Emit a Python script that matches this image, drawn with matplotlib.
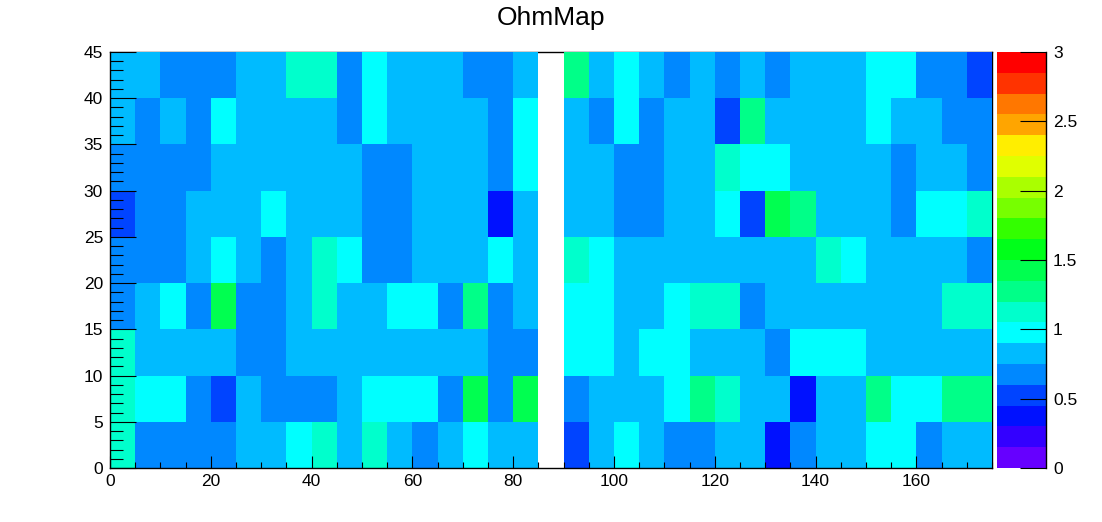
import numpy as np
import matplotlib
matplotlib.use("Agg")
import matplotlib.pyplot as plt
from matplotlib.colors import ListedColormap, BoundaryNorm
from matplotlib.ticker import MultipleLocator, FuncFormatter

plt.rcParams["font.family"] = ["Liberation Sans", "DejaVu Sans"]

# bin edges (35 x 9 cells of 5 x 5)
x_edges = np.arange(0, 176, 5)
y_edges = np.arange(0, 46, 5)

# resistance per cell, one list per y-row (bottom to top); 0 = empty bin
ohm_y00 = [1.12, 0.68, 0.68, 0.68, 0.68, 0.82, 0.82, 0.98, 1.12, 0.82, 1.12, 0.82, 0.68, 0.82, 0.98, 0.82, 0.82, 0,
           0.52, 0.82, 0.98, 0.82, 0.68, 0.68, 0.82, 0.82, 0.38, 0.68, 0.82, 0.82, 0.98, 0.98, 0.68, 0.82, 0.82]
ohm_y05 = [1.12, 0.98, 0.98, 0.68, 0.52, 0.82, 0.68, 0.68, 0.68, 0.82, 0.98, 0.98, 0.98, 0.68, 1.42, 0.68, 1.42, 0,
           0.68, 0.82, 0.82, 0.82, 0.98, 1.28, 1.12, 0.82, 0.82, 0.38, 0.82, 0.82, 1.28, 0.98, 0.98, 1.28, 1.28]
ohm_y10 = [1.12, 0.82, 0.82, 0.82, 0.82, 0.68, 0.68, 0.82, 0.82, 0.82, 0.82, 0.82, 0.82, 0.82, 0.82, 0.68, 0.68, 0,
           0.98, 0.98, 0.82, 0.98, 0.98, 0.82, 0.82, 0.82, 0.68, 0.98, 0.98, 0.98, 0.82, 0.82, 0.82, 0.82, 0.82]
ohm_y15 = [0.68, 0.82, 0.98, 0.68, 1.42, 0.68, 0.68, 0.82, 1.12, 0.82, 0.82, 0.98, 0.98, 0.68, 1.28, 0.68, 0.82, 0,
           0.98, 0.98, 0.82, 0.82, 0.98, 1.12, 1.12, 0.68, 0.82, 0.82, 0.82, 0.82, 0.82, 0.82, 0.82, 1.12, 1.12]
ohm_y20 = [0.68, 0.68, 0.68, 0.82, 0.98, 0.82, 0.68, 0.82, 1.12, 0.98, 0.68, 0.68, 0.82, 0.82, 0.82, 0.98, 0.82, 0,
           1.12, 0.98, 0.82, 0.82, 0.82, 0.82, 0.82, 0.82, 0.82, 0.82, 1.12, 0.98, 0.82, 0.82, 0.82, 0.82, 0.68]
ohm_y25 = [0.52, 0.68, 0.68, 0.82, 0.82, 0.82, 0.98, 0.82, 0.82, 0.82, 0.68, 0.68, 0.82, 0.82, 0.82, 0.38, 0.82, 0,
           0.82, 0.82, 0.68, 0.68, 0.82, 0.82, 0.98, 0.52, 1.42, 1.28, 0.82, 0.82, 0.82, 0.68, 0.98, 0.98, 1.12]
ohm_y30 = [0.68, 0.68, 0.68, 0.68, 0.82, 0.82, 0.82, 0.82, 0.82, 0.82, 0.68, 0.68, 0.82, 0.82, 0.82, 0.68, 0.98, 0,
           0.82, 0.82, 0.68, 0.68, 0.82, 0.82, 1.12, 0.98, 0.98, 0.82, 0.82, 0.82, 0.82, 0.68, 0.82, 0.82, 0.68]
ohm_y35 = [0.82, 0.68, 0.82, 0.68, 0.98, 0.82, 0.82, 0.82, 0.82, 0.68, 0.98, 0.82, 0.82, 0.82, 0.82, 0.68, 0.98, 0,
           0.82, 0.68, 0.98, 0.68, 0.82, 0.82, 0.52, 1.28, 0.82, 0.82, 0.82, 0.82, 0.98, 0.82, 0.82, 0.68, 0.68]
ohm_y40 = [0.82, 0.82, 0.68, 0.68, 0.68, 0.82, 0.82, 1.12, 1.12, 0.68, 0.98, 0.82, 0.82, 0.82, 0.68, 0.68, 0.82, 0,
           1.28, 0.82, 0.98, 0.82, 0.68, 0.82, 0.68, 0.82, 0.68, 0.82, 0.82, 0.82, 0.98, 0.98, 0.68, 0.68, 0.52]

z_levels = np.linspace(0, 3, 21)
cbar_ticks = [0, 0.5, 1, 1.5, 2, 2.5, 3]
palette = ["#6600ff", "#3300ff", "#0011ff", "#0044ff", "#0088ff", "#00bbff", "#00ffff", "#00ffcc",
           "#00ff88", "#00ff50", "#00ff1a", "#33ff00", "#77ff00", "#aaff00", "#e0ff00", "#ffee00",
           "#ffa500", "#ff7700", "#ff3300", "#ff0000"]

Z = np.array([ohm_y00, ohm_y05, ohm_y10, ohm_y15, ohm_y20, ohm_y25, ohm_y30, ohm_y35, ohm_y40])
Z = np.ma.masked_where(Z == 0, Z)   # empty bins are not drawn

W, H = 1102, 522
fig = plt.figure(figsize=(W / 100, H / 100), dpi=100)
ax = fig.add_axes([110 / W, 1 - 468 / H, 882 / W, 416 / H])
cax = fig.add_axes([997 / W, 1 - 468 / H, 49 / W, 416 / H])

cmap = ListedColormap(palette)
norm = BoundaryNorm(z_levels, cmap.N)
mesh = ax.pcolormesh(x_edges, y_edges, Z, cmap=cmap, norm=norm, zorder=1)
ax.set_xlim(0, 175); ax.set_ylim(0, 45)

# frame lies under the cells, axis lines on top
for s in ["top", "right"]:
    ax.spines[s].set_zorder(0.5)
for s in ["left", "bottom"]:
    ax.spines[s].set_zorder(3)
for s in ax.spines.values():
    s.set_linewidth(1.0)

ax.xaxis.set_major_locator(MultipleLocator(20)); ax.xaxis.set_minor_locator(MultipleLocator(5))
ax.yaxis.set_major_locator(MultipleLocator(5)); ax.yaxis.set_minor_locator(MultipleLocator(1))
ax.tick_params(axis="x", which="major", direction="in", length=9, width=0.8, labelsize=12.5, pad=4)
ax.tick_params(axis="x", which="minor", direction="in", length=4.5, width=0.8)
ax.tick_params(axis="y", which="major", direction="in", length=18.7, width=0.8, labelsize=12.5, pad=5)
ax.tick_params(axis="y", which="minor", direction="in", length=9.4, width=0.8)
ax.tick_params(top=False, right=False, which="both")
for t in ax.get_xticklabels() + ax.get_yticklabels():
    t.set_zorder(4)

cb = fig.colorbar(mesh, cax=cax, ticks=cbar_ticks)
cb.outline.set_visible(False)
cax.spines["right"].set_visible(True)
cax.spines["right"].set_linewidth(1.0)
cax.yaxis.set_major_formatter(FuncFormatter(lambda v, p: f"{v:g}"))
cax.tick_params(axis="y", which="major", direction="in", length=18.7, width=0.8, labelsize=12.5, pad=5)
cax.minorticks_off()

fig.text(0.5, 1 - 18 / H, "OhmMap", ha="center", va="center", fontsize=19)

fig.savefig("out.png", dpi=100, facecolor="white")
